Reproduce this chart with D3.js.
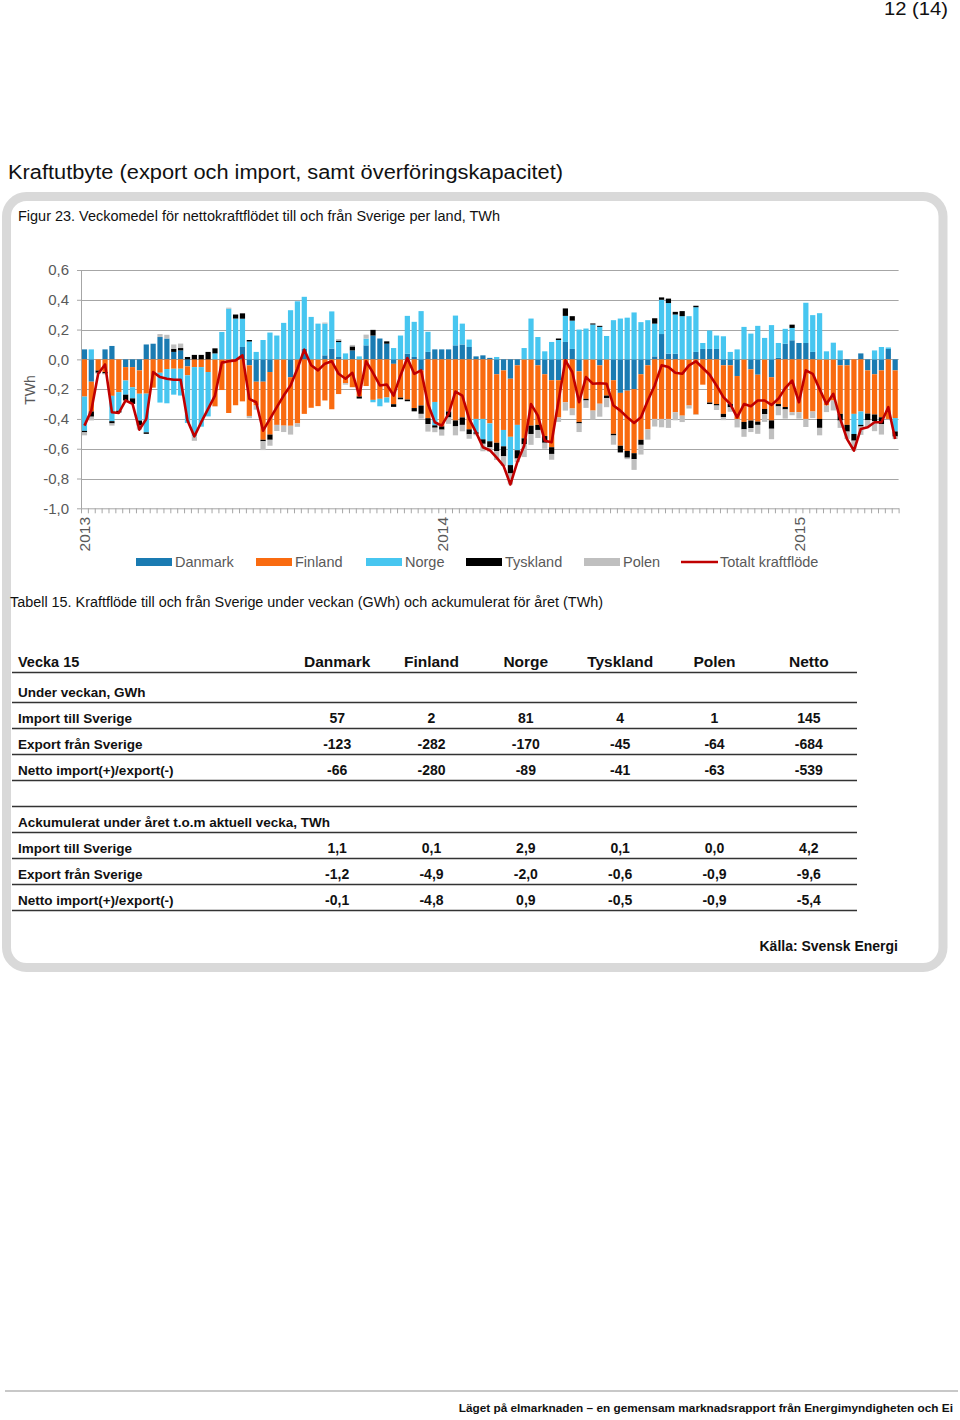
<!DOCTYPE html>
<html><head><meta charset="utf-8">
<script src="https://cdn.jsdelivr.net/npm/d3@7"></script>
<style>
body{margin:0;background:#fff}
svg{display:block}
text{font-family:"Liberation Sans",Arial,sans-serif}
</style>
</head><body>
<svg id="page" width="960" height="1420"></svg>
<script>
// ---------------- DATA ----------------
const years = ["2013", "2014", "2015"];
const weeksPerYear = [52, 52, 15];
const seriesNames = ["Danmark", "Finland", "Norge", "Tyskland", "Polen"];
const lineName = "Totalt kraftflöde";
const yTicks = [-1.0, -0.8, -0.6, -0.4, -0.2, 0.0, 0.2, 0.4, 0.6];

const danmark = [
 0.067,-0.15,0,0.067,0.09,0,-0.052,-0.052,-0.074,0.1,
 0.105,0.15,0.14,0.05,0.06,-0.047,0,0,0,0,
 0,0,0,0.083,-0.04,-0.15,-0.15,-0.085,0,0,
 -0.12,0,0.07,0,0,0.027,0.072,0.016,0,0.06,
 0,0.094,0.16,0.14,0.105,-0.03,0,0.038,0.016,-0.074,
 0.05,0.067,0.067,0.067,0.094,0.1,0.083,0.02,0.027,0.01,
 -0.1,-0.074,-0.13,-0.04,0,0,-0.04,-0.1,-0.14,-0.14,
 0.117,0.07,-0.08,0,0,-0.04,0,-0.14,-0.225,-0.21,
 -0.2,-0.1,-0.04,0.02,0.17,0.038,0.038,0,0,0.05,
 0.07,0.07,0.07,-0.04,-0.04,-0.112,0,-0.067,-0.103,0,
 -0.12,0.01,0.105,0.128,0.11,0.11,0.05,0,0,0,
 -0.04,-0.04,0,0.04,-0.074,-0.1,-0.074,0.07,-0.074];
const finland = [
 -0.25,-0.2,-0.075,-0.085,-0.245,-0.22,-0.09,-0.135,-0.157,-0.23,
 -0.19,-0.09,-0.065,-0.063,-0.063,-0.06,-0.052,-0.052,-0.085,-0.315,
 -0.206,-0.36,-0.308,-0.282,-0.34,-0.16,-0.39,-0.42,-0.44,-0.445,
 -0.326,-0.43,-0.366,-0.325,-0.314,-0.276,-0.335,-0.233,-0.16,-0.187,
 -0.249,-0.179,-0.272,-0.265,-0.256,-0.271,-0.257,-0.27,-0.327,-0.236,
 -0.395,-0.286,-0.45,-0.35,-0.41,-0.39,-0.47,-0.4,-0.4,-0.43,
 -0.46,-0.4,-0.39,-0.4,-0.53,-0.445,-0.4,-0.415,-0.45,-0.25,
 -0.288,-0.33,-0.34,-0.265,-0.344,-0.258,-0.243,-0.36,-0.355,-0.405,
 -0.43,-0.44,-0.43,-0.4,-0.4,-0.4,-0.355,-0.378,-0.31,-0.37,
 -0.17,-0.29,-0.3,-0.326,-0.26,-0.29,-0.42,-0.344,-0.315,-0.333,
 -0.29,-0.3,-0.32,-0.355,-0.355,-0.4,-0.35,-0.4,-0.31,-0.276,
 -0.326,-0.4,-0.366,-0.35,-0.29,-0.27,-0.315,-0.4,-0.32];
const norge = [
 -0.23,0.067,0,0,-0.17,-0.125,-0.095,-0.075,-0.18,-0.26,
 0,-0.2,-0.23,-0.174,-0.18,-0.32,-0.465,-0.4,-0.298,0.04,
 0.184,0.34,0.274,0.19,0.12,0.05,0.13,0.18,0.16,0.245,
 0.33,0.39,0.35,0.285,0.24,0.213,0.25,0.1,0.04,0,
 0.02,0.045,-0.016,-0.05,-0.034,0.076,0.16,0.254,0.236,0.324,
 0.135,-0.157,0,0,0.2,0.14,0.05,-0.09,-0.137,-0.12,
 0.016,-0.11,-0.19,-0.17,0.076,0.274,0.15,0.054,0.117,0.13,
 0.175,0.19,0.2,0.207,0.234,0.218,0.157,0.263,0.274,0.28,
 0.315,0.25,0.263,0.22,0.23,0.34,0.263,0.29,0.29,0.3,
 0.04,0.124,0.09,0.155,0.05,0.067,0.218,0.173,0.225,0.144,
 0.23,0.1,0.1,0.083,0,0.27,0.247,0.31,0.054,0.112,
 0.06,0,-0.135,-0.09,0,0.06,0.083,0.01,-0.09];
const tyskland = [
 -0.01,-0.035,-0.015,-0.01,-0.015,-0.012,-0.039,-0.037,-0.034,-0.01,
 0,0,0,0.02,0.016,0.016,0.03,0.03,0.05,0.034,
 0,0,0.027,0.036,0.01,0,-0.01,-0.035,0,0,
 0,0,0,0,0,0,0,0.01,0,0.027,
 -0.014,0,0.038,0,0.016,-0.018,-0.011,-0.011,-0.022,-0.056,
 -0.04,-0.016,-0.022,-0.04,-0.04,-0.05,-0.033,-0.01,-0.03,-0.04,
 -0.056,-0.067,-0.056,-0.056,-0.04,-0.056,-0.034,-0.045,-0.045,0.01,
 0.05,0.03,-0.01,-0.011,0.007,0.007,-0.018,-0.011,-0.045,-0.045,
 -0.04,-0.034,0,0.036,0.016,0.03,0.018,0.034,0,0.01,
 0,-0.01,-0.01,-0.022,-0.022,0,-0.05,-0.05,-0.022,-0.034,
 -0.056,-0.016,-0.016,0.022,0,0,0,-0.06,0,0,
 -0.045,-0.045,-0.045,-0.011,-0.045,-0.045,-0.045,0,-0.034];
const polen = [
 -0.02,-0.025,-0.007,-0.006,-0.015,-0.003,0,0,-0.027,0,
 0,0.02,0.025,0.03,0.03,0,-0.03,0,0,-0.002,
 0,0.007,0,0,-0.015,-0.028,-0.059,-0.04,-0.041,-0.043,
 -0.059,-0.023,0,0,0,0.007,0,0.01,-0.01,0.01,
 0,0.027,0,0,0,0,0,0,0,-0.032,
 -0.05,-0.03,-0.04,-0.043,-0.06,-0.043,-0.03,-0.01,-0.05,-0.03,
 -0.06,-0.064,-0.074,-0.024,-0.086,-0.073,-0.054,-0.04,-0.039,-0.03,
 -0.056,-0.045,-0.058,-0.05,-0.061,-0.087,-0.06,-0.062,0,-0.01,
 -0.072,-0.065,-0.069,-0.051,-0.056,-0.06,-0.054,-0.043,-0.02,-0.003,
 0,0,-0.03,-0.02,-0.03,-0.055,-0.05,-0.027,-0.06,-0.053,
 -0.07,-0.059,-0.062,-0.02,-0.043,-0.054,-0.044,-0.05,-0.044,-0.067,
 -0.049,-0.05,-0.067,-0.056,-0.047,-0.067,-0.071,0,-0.017];
const totalt = [
 -0.445,-0.344,-0.097,-0.034,-0.355,-0.36,-0.276,-0.299,-0.472,-0.4,
 -0.085,-0.119,-0.13,-0.137,-0.137,-0.411,-0.517,-0.422,-0.333,-0.243,
 -0.022,-0.013,-0.007,0.027,-0.265,-0.288,-0.479,-0.4,-0.321,-0.243,
 -0.175,-0.063,0.065,-0.04,-0.074,-0.029,-0.013,-0.097,-0.13,-0.09,
 -0.243,-0.013,-0.09,-0.175,-0.169,-0.243,-0.108,0.009,-0.097,-0.074,
 -0.3,-0.422,-0.445,-0.366,-0.216,-0.243,-0.4,-0.49,-0.59,-0.61,
 -0.66,-0.715,-0.84,-0.69,-0.58,-0.3,-0.378,-0.546,-0.557,-0.28,
 -0.007,-0.085,-0.288,-0.119,-0.164,-0.16,-0.164,-0.31,-0.344,-0.389,
 -0.427,-0.389,-0.276,-0.175,-0.04,-0.052,-0.09,-0.097,-0.04,-0.013,
 -0.058,-0.103,-0.175,-0.254,-0.3,-0.389,-0.3,-0.315,-0.276,-0.276,
 -0.306,-0.265,-0.193,-0.142,-0.288,-0.074,-0.097,-0.2,-0.3,-0.231,
 -0.4,-0.535,-0.613,-0.467,-0.456,-0.422,-0.422,-0.321,-0.535];

// Table data
const tableCols = ["Danmark", "Finland", "Norge", "Tyskland", "Polen", "Netto"];
const weekLabel = "Vecka 15";
const weekImport = [57, 2, 81, 4, 1, 145];
const weekExport = [-123, -282, -170, -45, -64, -684];
const weekNet = [-66, -280, -89, -41, -63, -539];
const accImport = [1.1, 0.1, 2.9, 0.1, 0.0, 4.2];
const accExport = [-1.2, -4.9, -2.0, -0.6, -0.9, -9.6];
const accNet = [-0.1, -4.8, 0.9, -0.5, -0.9, -5.4];

// ---------------- SETUP ----------------
const colors = {Danmark:"#1a7bb2", Finland:"#f96b10", Norge:"#47c6f0", Tyskland:"#000000", Polen:"#bfbfbf"};
const lineColor = "#c00000";
const values = {Danmark:danmark, Finland:finland, Norge:norge, Tyskland:tyskland, Polen:polen};

const categories = [];
years.forEach((yr, k) => { for (let w = 1; w <= weeksPerYear[k]; w++) categories.push(yr + "-v" + w); });
const rows = categories.map((c, i) => {
  const r = {cat: c};
  seriesNames.forEach(s => r[s] = values[s][i]);
  r.total = totalt[i];
  return r;
});

const loc = d3.formatLocale({decimal: ",", thousands: " ", grouping: [3], currency: ["", ""], minus: "-"});
const f1 = loc.format(".1f");
const f0 = loc.format("d");

const svg = d3.select("#page");
const gray = "#595959";

// page header
svg.append("text").attr("x", 948).attr("y", 15).attr("text-anchor", "end")
  .attr("font-size", 18).attr("fill", "#111").attr("textLength", 64).attr("lengthAdjust","spacingAndGlyphs").text("12 (14)");

svg.append("text").attr("x", 8).attr("y", 179).attr("font-size", 20).attr("fill", "#111")
  .attr("textLength", 555).attr("lengthAdjust", "spacingAndGlyphs")
  .text("Kraftutbyte (export och import, samt överföringskapacitet)");

// rounded box
svg.append("rect").attr("x", 6.5).attr("y", 196.5).attr("width", 936.5).attr("height", 771)
  .attr("rx", 20).attr("fill", "#fff").attr("stroke", "#d9d9d9").attr("stroke-width", 9);

svg.append("text").attr("x", 18).attr("y", 221).attr("font-size", 14).attr("fill", "#111")
  .attr("textLength", 482).attr("lengthAdjust", "spacingAndGlyphs")
  .text("Figur 23. Veckomedel för nettokraftflödet till och från Sverige per land, TWh");

// ---------------- CHART ----------------
const x0 = 81, x1 = 898.6, yTop = 270, yBot = 508.3;
const x = d3.scaleBand().domain(categories).range([x0, x1]).paddingInner(0.24).paddingOuter(0.12);
const y = d3.scaleLinear().domain([-1.0, 0.6]).range([yBot, yTop]);
const xb = d3.scaleLinear().domain([0, categories.length]).range([x0, x1]);

const chart = svg.append("g");

// gridlines
chart.append("g").selectAll("line").data(yTicks.filter(t => t > -1))
  .join("line").attr("x1", x0).attr("x2", x1)
  .attr("y1", d => Math.round(y(d)) + 0.5).attr("y2", d => Math.round(y(d)) + 0.5)
  .attr("stroke", "#a6a6a6").attr("stroke-width", 1);

// bars
const stack = d3.stack().keys(seriesNames).offset(d3.stackOffsetDiverging);
const stacked = stack(rows);
chart.append("g").selectAll("g").data(stacked).join("g")
  .attr("fill", d => colors[d.key])
  .selectAll("rect").data(d => d).join("rect")
  .attr("x", d => x(d.data.cat))
  .attr("width", x.bandwidth())
  .attr("y", d => y(Math.max(d[0], d[1])))
  .attr("height", d => Math.abs(y(d[0]) - y(d[1])));

// y axis
const yAxis = chart.append("g").attr("transform", `translate(${x0},0)`)
  .call(d3.axisLeft(y).tickValues(yTicks).tickSize(4).tickSizeOuter(0).tickFormat(f1));
yAxis.select(".domain").attr("stroke", "#a6a6a6");
yAxis.selectAll(".tick line").attr("stroke", "#a6a6a6");
yAxis.selectAll(".tick text").attr("font-size", 15).attr("fill", gray)
  .attr("font-family", "Liberation Sans, Arial, sans-serif").attr("x", -12);

// x axis (weekly ticks)
const xAxis = chart.append("g").attr("transform", `translate(0,${yBot})`)
  .call(d3.axisBottom(xb).tickValues(d3.range(categories.length + 1)).tickSize(5).tickSizeOuter(0).tickFormat(""));
xAxis.select(".domain").attr("stroke", "#a6a6a6");
xAxis.selectAll(".tick line").attr("stroke", "#a6a6a6");

// year labels
const yearStarts = categories.filter(c => c.endsWith("-v1"));
chart.append("g").selectAll("text").data(yearStarts).join("text")
  .attr("transform", d => `translate(${x(d) + x.bandwidth() / 2 + 6},517) rotate(-90)`)
  .attr("text-anchor", "end").attr("font-size", 15.5).attr("fill", gray)
  .text(d => d.split("-")[0]);

// TWh label
chart.append("text").attr("transform", "translate(35,390) rotate(-90)")
  .attr("text-anchor", "middle").attr("font-size", 14).attr("fill", gray).text("TWh");

// total line
const line = d3.line().x(d => x(d.cat) + x.bandwidth() / 2).y(d => y(d.total));
chart.append("path").datum(rows).attr("d", line).attr("fill", "none")
  .attr("stroke", lineColor).attr("stroke-width", 2.6).attr("stroke-linejoin", "round");

// legend
const legendItems = [
  {name: "Danmark", x: 136}, {name: "Finland", x: 256}, {name: "Norge", x: 366},
  {name: "Tyskland", x: 466}, {name: "Polen", x: 584}, {name: lineName, x: 681}];
const lg = svg.append("g");
legendItems.forEach(it => {
  if (it.name === lineName) {
    lg.append("line").attr("x1", it.x).attr("x2", it.x + 37).attr("y1", 562).attr("y2", 562)
      .attr("stroke", lineColor).attr("stroke-width", 2.6);
  } else {
    lg.append("rect").attr("x", it.x).attr("y", 558).attr("width", 36).attr("height", 8).attr("fill", colors[it.name]);
  }
  lg.append("text").attr("x", it.x + 39).attr("y", 567).attr("font-size", 14.5).attr("fill", gray).text(it.name);
});

// ---------------- TABLE ----------------
svg.append("text").attr("x", 10).attr("y", 607).attr("font-size", 14).attr("fill", "#111")
  .attr("textLength", 593).attr("lengthAdjust", "spacingAndGlyphs")
  .text("Tabell 15. Kraftflöde till och från Sverige under veckan (GWh) och ackumulerat för året (TWh)");

const col = d3.scaleBand().domain(tableCols).range([290, 856]);
const tbl = svg.append("g").attr("fill", "#111");
const tFont = "Liberation Sans, Arial, sans-serif";

// header
tbl.append("text").attr("x", 18).attr("y", 667).attr("font-size", 14.5).attr("font-weight", "bold").text(weekLabel);
tbl.selectAll(".hdr").data(tableCols).join("text").attr("class", "hdr")
  .attr("x", d => col(d) + col.bandwidth() / 2).attr("y", 667).attr("text-anchor", "middle")
  .attr("font-size", 15.5).attr("font-weight", "bold").text(d => d);

const tableRows = [
  {label: "Under veckan, GWh", y: 697},
  {label: "Import till Sverige", y: 723, vals: weekImport, fmt: f0},
  {label: "Export från Sverige", y: 749, vals: weekExport, fmt: f0},
  {label: "Netto import(+)/export(-)", y: 775, vals: weekNet, fmt: f0},
  {label: "Ackumulerat under året t.o.m aktuell vecka, TWh", y: 827},
  {label: "Import till Sverige", y: 853, vals: accImport, fmt: f1},
  {label: "Export från Sverige", y: 879, vals: accExport, fmt: f1},
  {label: "Netto import(+)/export(-)", y: 905, vals: accNet, fmt: f1}
];
tableRows.forEach(r => {
  tbl.append("text").attr("x", 18).attr("y", r.y).attr("font-size", 13.5).attr("font-weight", "bold")
    .attr("font-family", tFont).text(r.label);
  if (r.vals) {
    tableCols.forEach((c, i) => {
      tbl.append("text").attr("x", col(c) + col.bandwidth() / 2).attr("y", r.y).attr("text-anchor", "middle")
        .attr("font-size", 14).attr("font-weight", "bold").text(r.fmt(r.vals[i]));
    });
  }
});
const ruleYs = [672.5, 702.5, 728.5, 754.5, 780.5, 806.5, 832.5, 858.5, 884.5, 910.5];
svg.append("g").selectAll("line").data(ruleYs).join("line")
  .attr("x1", 12).attr("x2", 857).attr("y1", d => d).attr("y2", d => d)
  .attr("stroke", "#333").attr("stroke-width", 1.3);

svg.append("text").attr("x", 898).attr("y", 951).attr("text-anchor", "end")
  .attr("font-size", 14).attr("font-weight", "bold").attr("fill", "#111").text("Källa: Svensk Energi");

// footer
svg.append("line").attr("x1", 5).attr("x2", 958).attr("y1", 1391).attr("y2", 1391)
  .attr("stroke", "#c8c8c8").attr("stroke-width", 2);
svg.append("text").attr("x", 953).attr("y", 1412).attr("text-anchor", "end")
  .attr("font-size", 11.8).attr("font-weight", "bold").attr("fill", "#111")
  .text("Läget på elmarknaden – en gemensam marknadsrapport från Energimyndigheten och Ei");
</script>
</body></html>
